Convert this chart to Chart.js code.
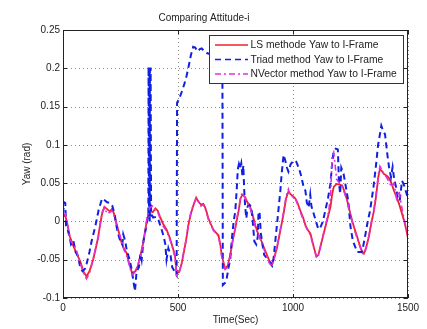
<!DOCTYPE html>
<html>
<head>
<meta charset="utf-8">
<script src="https://cdn.jsdelivr.net/npm/chart.js@4"></script>
<style>
  html, body { margin: 0; padding: 0; background: #fff; }
  #wrap { width: 427px; height: 329px; }
</style>
</head>
<body>
<div id="wrap"><canvas id="myChart" width="427" height="329"></canvas></div>
<script>
// time stamps (s) shared by the LS and NVector estimates
const lsTime = [0, 10, 20, 30, 45, 58, 75, 90, 102, 115, 131, 145, 153, 162, 170, 180, 192, 204, 212, 220,
  232, 240, 255, 266, 276, 288, 300, 315, 327, 340, 349, 357, 363, 370, 378, 390, 402, 412, 422, 435,
  451, 465, 478, 487, 494, 505, 515, 523, 535, 545, 556, 567, 579, 590, 600, 610, 617, 625, 632, 645,
  654, 666, 676, 684, 690, 705, 716, 727, 738, 749, 756, 763, 772, 780, 792, 800, 814, 825, 836, 847,
  858, 872, 887, 898, 909, 920, 930, 945, 959, 970, 980, 988, 1000, 1010, 1020, 1032, 1045, 1054, 1066, 1076,
  1090, 1102, 1110, 1119, 1130, 1141, 1152, 1163, 1170, 1177, 1190, 1203, 1214, 1225, 1236, 1247, 1257, 1268, 1279, 1290,
  1301, 1308, 1318, 1330, 1340, 1352, 1360, 1366, 1372, 1378, 1386, 1395, 1406, 1417, 1428, 1439, 1450, 1461, 1472, 1483,
  1492, 1500];

const lsYaw = [0.006, 0.008, -0.005, -0.02, -0.032, -0.041, -0.052, -0.066, -0.072, -0.065, -0.05, -0.032, -0.02, -0.003, 0.01, 0.019, 0.016, 0.013, 0.016, 0.012,
  -0.002, -0.011, -0.028, -0.036, -0.041, -0.055, -0.067, -0.065, -0.057, -0.04, -0.028, -0.012, -0.002, 0.008, 0.013, 0.012, 0.017, 0.014, 0.006, -0.003,
  -0.011, -0.022, -0.035, -0.045, -0.068, -0.066, -0.056, -0.044, -0.025, -0.005, 0.01, 0.021, 0.031, 0.025, 0.022, 0.023, 0.019, 0.012, 0.004, -0.005,
  -0.011, -0.015, -0.018, -0.03, -0.044, -0.062, -0.058, -0.044, -0.025, -0.009, 0.002, 0.013, 0.03, 0.035, 0.032, 0.026, 0.019, 0.008, -0.005, -0.015,
  -0.022, -0.033, -0.044, -0.052, -0.055, -0.045, -0.035, -0.012, 0.01, 0.03, 0.039, 0.036, 0.033, 0.03, 0.024, 0.014, 0.004, -0.005, -0.012, -0.016,
  -0.033, -0.046, -0.044, -0.033, -0.02, -0.007, 0.006, 0.019, 0.035, 0.045, 0.049, 0.048, 0.047, 0.038, 0.027, 0.013, 0.001, -0.01, -0.02, -0.031,
  -0.04, -0.042, -0.034, -0.02, -0.003, 0.014, 0.03, 0.045, 0.06, 0.068, 0.066, 0.062, 0.06, 0.057, 0.05, 0.04, 0.032, 0.023, 0.012, 0.001,
  -0.01, -0.022];

const nvYaw = [0.008, 0.01, -0.004, -0.024, -0.03, -0.037, -0.055, -0.068, -0.075, -0.068, -0.05, -0.03, -0.022, -0.004, 0.012, 0.018, 0.01, 0.012, 0.014, 0.01,
  -0.004, -0.012, -0.026, -0.038, -0.043, -0.057, -0.07, -0.066, -0.055, -0.042, -0.026, -0.014, 0.0, 0.012, 0.018, 0.02, 0.015, 0.012, 0.004, -0.006,
  -0.013, -0.024, -0.036, -0.047, -0.07, -0.067, -0.056, -0.042, -0.024, -0.004, 0.012, 0.022, 0.03, 0.026, 0.02, 0.022, 0.018, 0.01, 0.003, -0.006,
  -0.012, -0.015, -0.02, -0.032, -0.046, -0.062, -0.06, -0.046, -0.024, -0.008, 0.004, 0.015, 0.032, 0.037, 0.03, 0.025, 0.017, 0.006, -0.007, -0.016,
  -0.024, -0.035, -0.046, -0.055, -0.058, -0.047, -0.034, -0.01, 0.012, 0.033, 0.042, 0.034, 0.032, 0.03, 0.022, 0.012, 0.002, -0.006, -0.013, -0.018,
  -0.034, -0.047, -0.045, -0.034, -0.019, -0.005, 0.008, 0.03, 0.085, 0.09, 0.055, 0.05, 0.046, 0.036, 0.026, 0.012, 0.0, -0.012, -0.022, -0.032,
  -0.041, -0.043, -0.035, -0.018, -0.002, 0.016, 0.032, 0.048, 0.063, 0.072, 0.068, 0.062, 0.058, 0.052, 0.045, 0.05, 0.03, 0.04, 0.02, 0.003,
  -0.008, -0.02];

// Triad estimate has its own sampling, with the jumps near 375 s, 495 s and 695 s
const triadTime = [0, 5, 10, 13, 20, 28, 35, 45, 55, 65, 75, 85, 95, 103, 115, 125, 140, 155, 170, 180,
  192, 205, 215, 225, 235, 245, 258, 262, 270, 278, 290, 300, 307, 313, 320, 330, 337, 342, 350, 360,
  368, 371, 372, 374, 375, 377, 378, 380, 381, 383, 392, 405, 415, 428, 438, 445, 450, 458, 468, 475, 485, 494,
  496, 505, 516, 528, 538, 548, 556, 566, 575, 585, 595, 603, 615, 625, 645, 670, 693, 695, 705, 712,
  720, 727, 735, 742, 749, 755, 760, 765, 770, 775, 780, 784, 788, 792, 797, 803, 810, 818, 825, 832,
  840, 847, 850, 855, 860, 867, 875, 887, 898, 909, 915, 925, 935, 945, 950, 959, 966, 974, 980, 990,
  1005, 1014, 1025, 1035, 1046, 1054, 1060, 1068, 1075, 1080, 1090, 1100, 1110, 1119, 1130, 1141, 1152, 1163, 1170, 1177,
  1186, 1195, 1200, 1205, 1210, 1220, 1230, 1240, 1250, 1260, 1270, 1280, 1290, 1300, 1310, 1325, 1335, 1350, 1360, 1370,
  1378, 1384, 1392, 1400, 1410, 1418, 1426, 1433, 1440, 1448, 1456, 1464, 1474, 1482, 1490, 1500];

const triadYaw = [0.01, 0.025, 0.024, -0.005, -0.01, -0.02, -0.03, -0.025, -0.04, -0.045, -0.06, -0.065, -0.062, -0.055, -0.04, -0.025, -0.007, 0.015, 0.03, 0.028,
  0.025, 0.024, 0.02, 0.008, -0.01, -0.022, -0.03, -0.017, -0.025, -0.039, -0.05, -0.065, -0.08, -0.091, -0.065, -0.06, -0.042, -0.05, -0.025, -0.01,
  0.005, 0.008, 0.202, 0.004, 0.2, 0.0, 0.2, 0.006, 0.201, 0.01, 0.005, 0.006, 0.002, -0.01, -0.02, -0.03, -0.05, -0.035, -0.045, -0.06, -0.065, -0.07,
  0.155, 0.16, 0.169, 0.18, 0.191, 0.205, 0.217, 0.228, 0.227, 0.222, 0.225, 0.226, 0.222, 0.22, 0.218, 0.215, 0.21, -0.083, -0.08, -0.074,
  -0.06, -0.05, -0.02, 0.0, 0.013, 0.04, 0.068, 0.075, 0.07, 0.076, 0.06, 0.073, 0.04, 0.02, 0.004, 0.02, 0.022, 0.02, 0.0, -0.026,
  -0.03, -0.02, 0.013, 0.01, -0.015, -0.03, -0.044, -0.048, -0.053, -0.058, -0.05, -0.02, 0.01, 0.04, 0.06, 0.087, 0.08, 0.07, 0.065, 0.075,
  0.08, 0.078, 0.07, 0.06, 0.045, 0.04, 0.025, 0.018, 0.035, 0.02, 0.01, 0.0, -0.01, -0.008, 0.0, 0.015, 0.03, 0.05, 0.075, 0.092,
  0.095, 0.094, 0.05, 0.036, 0.07, 0.062, 0.045, 0.027, -0.007, -0.025, -0.033, -0.04, -0.04, -0.04, -0.025, 0.0, 0.014, 0.045, 0.071, 0.1,
  0.114, 0.125, 0.118, 0.114, 0.088, 0.07, 0.058, 0.071, 0.055, 0.045, 0.03, 0.027, 0.053, 0.048, 0.04, 0.03];

const yTicks = [-0.1, -0.05, 0, 0.05, 0.1, 0.15, 0.2, 0.25];
const xTicks = [0, 500, 1000, 1500];

const toPoints = (ts, vs) => ts.map((t, i) => ({ x: t, y: vs[i] }));

const FONT = "'Liberation Sans', Arial, sans-serif";

// dotted grid under the curves
const gridPlugin = {
  id: "dottedGrid",
  beforeDatasetsDraw(chart) {
    const { ctx, chartArea: a, scales } = chart;
    ctx.save();
    ctx.strokeStyle = "#8a8a8a";
    ctx.lineWidth = 1;
    ctx.setLineDash([1, 3]);
    ctx.beginPath();
    xTicks.forEach((t) => {
      const x = Math.round(scales.x.getPixelForValue(t)) + 0.5;
      ctx.moveTo(x, a.top); ctx.lineTo(x, a.bottom);
    });
    yTicks.forEach((t) => {
      const y = Math.round(scales.y.getPixelForValue(t)) + 0.5;
      ctx.moveTo(a.left, y); ctx.lineTo(a.right, y);
    });
    ctx.stroke();
    ctx.restore();
  },
};

// matlab-style frame: solid box with small inward ticks, plus the legend box
const framePlugin = {
  id: "frame",
  afterDatasetsDraw(chart) {
    const { ctx, chartArea: a, scales } = chart;
    ctx.save();
    ctx.strokeStyle = "#222";
    ctx.lineWidth = 1;
    ctx.setLineDash([]);
    ctx.strokeRect(a.left + 0.5, a.top + 0.5, a.right - a.left - 1, a.bottom - a.top - 1);
    ctx.beginPath();
    xTicks.forEach((t) => {
      const x = Math.round(scales.x.getPixelForValue(t)) + 0.5;
      ctx.moveTo(x, a.bottom); ctx.lineTo(x, a.bottom - 4);
      ctx.moveTo(x, a.top); ctx.lineTo(x, a.top + 4);
    });
    yTicks.forEach((t) => {
      const y = Math.round(scales.y.getPixelForValue(t)) + 0.5;
      ctx.moveTo(a.left, y); ctx.lineTo(a.left + 4, y);
      ctx.moveTo(a.right, y); ctx.lineTo(a.right - 4, y);
    });
    ctx.stroke();

    // legend
    const bx = 209, by = 35, bw = 194, bh = 48;
    ctx.fillStyle = "#fff";
    ctx.fillRect(bx, by, bw, bh);
    ctx.strokeStyle = "#333";
    ctx.strokeRect(bx + 0.5, by + 0.5, bw, bh);
    ctx.font = "10.3px " + FONT;
    ctx.textBaseline = "middle";
    chart.data.datasets.forEach((ds, i) => {
      const y = 45 + i * 14.5;
      ctx.strokeStyle = ds.borderColor;
      ctx.lineWidth = 1.5;
      ctx.setLineDash(ds.borderDash || []);
      ctx.beginPath();
      ctx.moveTo(215, y);
      ctx.lineTo(248, y);
      ctx.stroke();
      ctx.setLineDash([]);
      ctx.fillStyle = "#222";
      ctx.fillText(ds.label, 250.5, y + 0.5);
    });
    ctx.restore();
  },
};

const tickLabel = (v) => String(Math.round(v * 1000) / 1000);

const ctx = document.getElementById("myChart").getContext("2d");

new Chart(ctx, {
  type: "line",
  data: {
    datasets: [
      {
        label: "LS methode Yaw to I-Frame",
        data: toPoints(lsTime, lsYaw),
        borderColor: "#f0202a",
        borderWidth: 1.8,
        order: 3,
      },
      {
        label: "Triad method Yaw to I-Frame",
        data: toPoints(triadTime, triadYaw),
        borderColor: "#1020e0",
        borderWidth: 2,
        borderDash: [6, 4],
        order: 2,
      },
      {
        label: "NVector method Yaw to I-Frame",
        data: toPoints(lsTime, nvYaw),
        borderColor: "#e030e0",
        borderWidth: 1.6,
        borderDash: [6, 3, 2, 3],
        order: 1,
      },
    ],
  },
  options: {
    responsive: false,
    animation: false,
    events: [],
    layout: { padding: { left: 0, right: 19, top: 0, bottom: 0 } },
    elements: { point: { radius: 0 }, line: { tension: 0 } },
    plugins: {
      legend: { display: false },
      tooltip: { enabled: false },
      title: {
        display: true,
        text: "Comparing Attitude-i",
        color: "#222",
        font: { family: FONT, size: 10, weight: "normal", lineHeight: 1.2 },
        padding: { top: 12, bottom: 6 },
      },
    },
    scales: {
      x: {
        type: "linear",
        min: 0,
        max: 1500,
        afterBuildTicks: (scale) => { scale.ticks = xTicks.map((v) => ({ value: v })); },
        afterFit: (scale) => { scale.height = 31; },
        grid: { display: false, drawTicks: false },
        border: { display: false },
        ticks: { color: "#222", padding: 4, maxRotation: 0, callback: tickLabel, font: { family: FONT, size: 10 } },
        title: {
          display: true,
          text: "Time(Sec)",
          color: "#222",
          font: { family: FONT, size: 10, lineHeight: 1.2 },
          padding: { top: 3, bottom: 3 },
        },
      },
      y: {
        type: "linear",
        min: -0.1,
        max: 0.25,
        afterBuildTicks: (scale) => { scale.ticks = yTicks.map((v) => ({ value: v })); },
        afterFit: (scale) => { scale.width = 63; },
        grid: { display: false, drawTicks: false },
        border: { display: false },
        ticks: { color: "#222", padding: 3, callback: tickLabel, font: { family: FONT, size: 10 } },
        title: {
          display: true,
          text: "Yaw (rad)",
          color: "#222",
          font: { family: FONT, size: 10, lineHeight: 1.2 },
          padding: { top: 21, bottom: 3 },
        },
      },
    },
  },
  plugins: [gridPlugin, framePlugin],
});
</script>
</body>
</html>
